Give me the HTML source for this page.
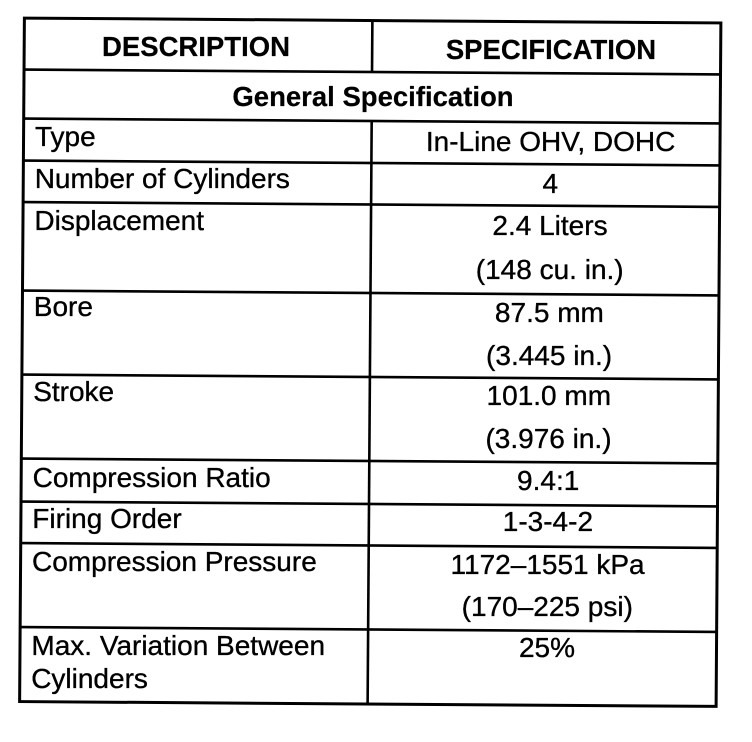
<!DOCTYPE html>
<html>
<head>
<meta charset="utf-8">
<style>
  html,body{margin:0;padding:0;background:#fff;}
  svg{display:block;}
  text{font-family:"Liberation Sans",Arial,sans-serif;fill:#000;stroke:#000;stroke-width:0.35px;}
  .b{font-weight:bold;font-size:27.5px;stroke-width:0.2px;}
  .n{font-size:28px;}
</style>
</head>
<body>
<svg width="752" height="742" viewBox="0 0 752 742" xmlns="http://www.w3.org/2000/svg">
  <rect width="752" height="742" fill="#fff"/>
  <g transform="rotate(0.4 370 362)" stroke="#000" fill="none">
    <rect x="22" y="20.5" width="696.5" height="683.5" stroke-width="3"/>
    <line x1="370" y1="20.5" x2="370" y2="72" stroke-width="2.6"/>
    <line x1="370" y1="121" x2="370" y2="704" stroke-width="2.6"/>
    <line x1="22" y1="72" x2="718.5" y2="72" stroke-width="2.6"/>
    <line x1="22" y1="121" x2="718.5" y2="121" stroke-width="2.6"/>
    <line x1="22" y1="163" x2="718.5" y2="163" stroke-width="2.6"/>
    <line x1="22" y1="204.5" x2="718.5" y2="204.5" stroke-width="2.6"/>
    <line x1="22" y1="293" x2="718.5" y2="293" stroke-width="2.6"/>
    <line x1="22" y1="377" x2="718.5" y2="377" stroke-width="2.6"/>
    <line x1="22" y1="461" x2="718.5" y2="461" stroke-width="2.6"/>
    <line x1="22" y1="504" x2="718.5" y2="504" stroke-width="2.6"/>
    <line x1="22" y1="545.5" x2="718.5" y2="545.5" stroke-width="2.6"/>
    <line x1="22" y1="629.5" x2="718.5" y2="629.5" stroke-width="2.6"/>
  </g>

  <text class="b" x="196" y="56" text-anchor="middle">DESCRIPTION</text>
  <text class="b" x="551" y="59" text-anchor="middle">SPECIFICATION</text>
  <text class="b" x="373" y="106" text-anchor="middle">General Specification</text>

  <text class="n" x="35" y="146">Type</text>
  <text class="n" x="34.7" y="188">Number of Cylinders</text>
  <text class="n" x="34.4" y="230">Displacement</text>
  <text class="n" x="33.8" y="316">Bore</text>
  <text class="n" x="33.2" y="401">Stroke</text>
  <text class="n" x="32.6" y="487">Compression Ratio</text>
  <text class="n" x="32.3" y="528">Firing Order</text>
  <text class="n" x="32" y="571">Compression Pressure</text>
  <text class="n" x="31.4" y="655">Max. Variation Between</text>
  <text class="n" x="31.2" y="688">Cylinders</text>

  <text class="n" x="550.6" y="151" text-anchor="middle">In-Line OHV, DOHC</text>
  <text class="n" x="550.3" y="193" text-anchor="middle">4</text>
  <text class="n" x="550" y="235" text-anchor="middle">2.4 Liters</text>
  <text class="n" x="549.7" y="279" text-anchor="middle">(148 cu. in.)</text>
  <text class="n" x="549.4" y="322" text-anchor="middle">87.5 mm</text>
  <text class="n" x="549.1" y="365" text-anchor="middle">(3.445 in.)</text>
  <text class="n" x="548.8" y="405" text-anchor="middle">101.0 mm</text>
  <text class="n" x="548.5" y="448" text-anchor="middle">(3.976 in.)</text>
  <text class="n" x="548.2" y="490" text-anchor="middle">9.4:1</text>
  <text class="n" x="547.9" y="531" text-anchor="middle">1-3-4-2</text>
  <text class="n" x="547.6" y="574" text-anchor="middle">1172–1551 kPa</text>
  <text class="n" x="547.3" y="616" text-anchor="middle">(170–225 psi)</text>
  <text class="n" x="547" y="657" text-anchor="middle">25%</text>
</svg>
</body>
</html>
